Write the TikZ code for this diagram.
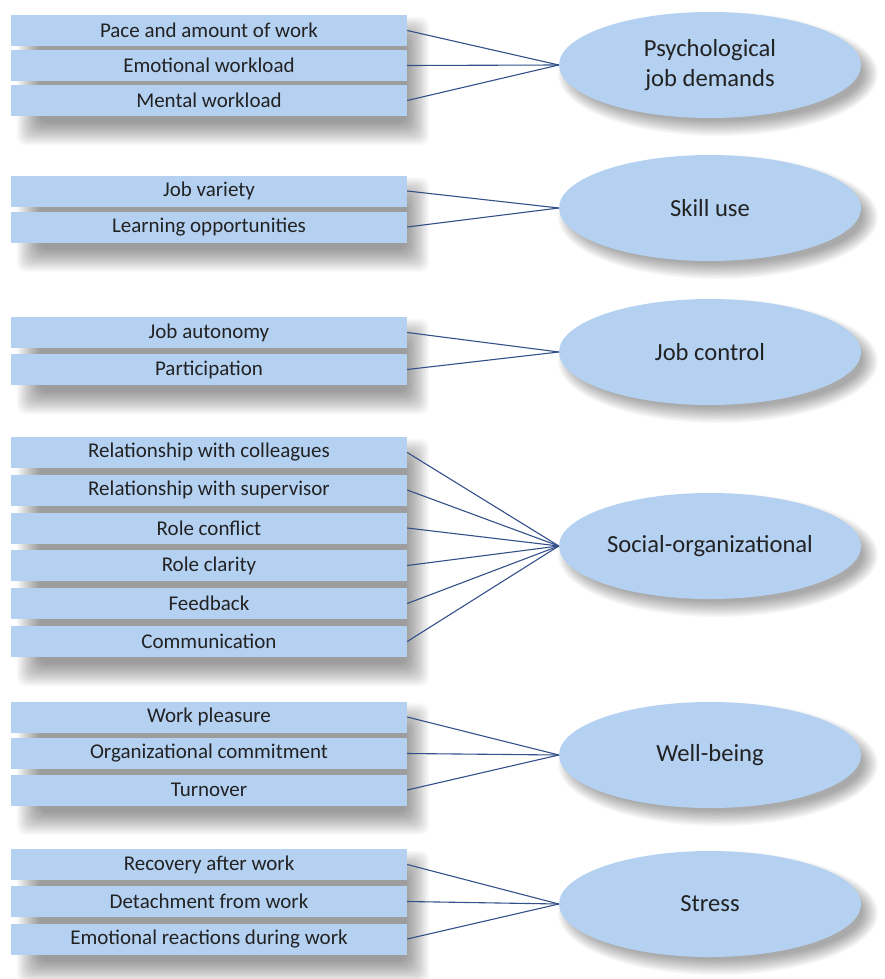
\documentclass[tikz,border=0pt]{standalone}
\usepackage{fontspec}
\setmainfont{Carlito}
\usetikzlibrary{calc,shapes.geometric}
\pgfdeclarelayer{back}
\pgfdeclarelayer{bg}
\pgfsetlayers{back,bg,main}
\definecolor{boxblue}{HTML}{B5D1F2}
\definecolor{txt}{HTML}{222222}
\definecolor{linec}{HTML}{34508A}
\newcommand{\groupshadow}[2]{%
  \foreach \k in {0,...,15}{%
    \pgfmathsetmacro{\e}{14-1.5*\k}%
    \fill[black, opacity=0.026, rounded corners=9pt]
      ($(#1.north west)+({20-\e},{16-\e})$) rectangle ($(#2.south east)+({8+\e},{15+\e})$);
  }%
}
\newcommand{\ellshadow}[1]{%
  \foreach \k in {0,...,11}{%
    \pgfmathsetmacro{\e}{9-1.4*\k}%
    \fill[black, opacity=0.032]
      ($(#1.center)+(8,9)$) ellipse ({151+\e} and {53+\e});
  }%
}
\begin{document}
\begin{tikzpicture}[x=1pt,y=-1pt,
  itembox/.style={rectangle, fill=boxblue, minimum width=396pt, minimum height=31pt,
    inner sep=0pt, font=\fontsize{21}{25}\selectfont, text=txt},
  factor/.style={ellipse, fill=boxblue, minimum width=302pt, minimum height=106pt,
    inner sep=0pt, font=\fontsize{24.6}{29.5}\selectfont, text=txt, align=center},
  link/.style={draw=linec, line width=1.1pt}]
\begin{pgfonlayer}{back}
\fill[white] (0,0) rectangle (885,979);
\end{pgfonlayer}
\useasboundingbox (0,0) rectangle (885,979);

% Psychological job demands
\node[itembox] (p1) at (209,30.5) {Pace and amount of work};
\node[itembox] (p2) at (209,65.5) {Emotional workload};
\node[itembox] (p3) at (209,100.5) {Mental workload};
\node[factor] (P) at (710,65) {Psychological\\job demands};

% Skill use
\node[itembox] (s1) at (209,191) {Job variety};
\node[itembox] (s2) at (209,227) {Learning opportunities};
\node[factor] (S) at (710,208) {Skill use};

% Job control
\node[itembox] (c1) at (209,332.5) {Job autonomy};
\node[itembox] (c2) at (209,369.5) {Participation};
\node[factor] (C) at (710,352) {Job control};

% Social-organizational
\node[itembox] (o1) at (209,452.5) {Relationship with colleagues};
\node[itembox] (o2) at (209,490) {Relationship with supervisor};
\node[itembox] (o3) at (209,528) {Role conflict};
\node[itembox] (o4) at (209,565.5) {Role clarity};
\node[itembox] (o5) at (209,603.5) {Feedback};
\node[itembox] (o6) at (209,641.5) {Communication};
\node[factor] (O) at (710,546) {Social-organizational};

% Well-being
\node[itembox] (w1) at (209,717) {Work pleasure};
\node[itembox] (w2) at (209,753.5) {Organizational commitment};
\node[itembox] (w3) at (209,790) {Turnover};
\node[factor] (W) at (710,755) {Well-being};

% Stress
\node[itembox] (t1) at (209,864.5) {Recovery after work};
\node[itembox] (t2) at (209,901.5) {Detachment from work};
\node[itembox] (t3) at (209,939) {Emotional reactions during work};
\node[factor] (T) at (710,904) {Stress};

\begin{pgfonlayer}{bg}
  \groupshadow{p1}{p3}
  \groupshadow{s1}{s2}
  \groupshadow{c1}{c2}
  \groupshadow{o1}{o6}
  \groupshadow{w1}{w3}
  \groupshadow{t1}{t3}
  \foreach \n in {P,S,C,O,W,T}{\ellshadow{\n}}
\end{pgfonlayer}

\foreach \n in {p1,p2,p3}{\draw[link] (\n.east) -- (P.west);}
\foreach \n in {s1,s2}{\draw[link] (\n.east) -- (S.west);}
\foreach \n in {c1,c2}{\draw[link] (\n.east) -- (C.west);}
\foreach \n in {o1,o2,o3,o4,o5,o6}{\draw[link] (\n.east) -- (O.west);}
\foreach \n in {w1,w2,w3}{\draw[link] (\n.east) -- (W.west);}
\foreach \n in {t1,t2,t3}{\draw[link] (\n.east) -- (T.west);}
\end{tikzpicture}
\end{document}
